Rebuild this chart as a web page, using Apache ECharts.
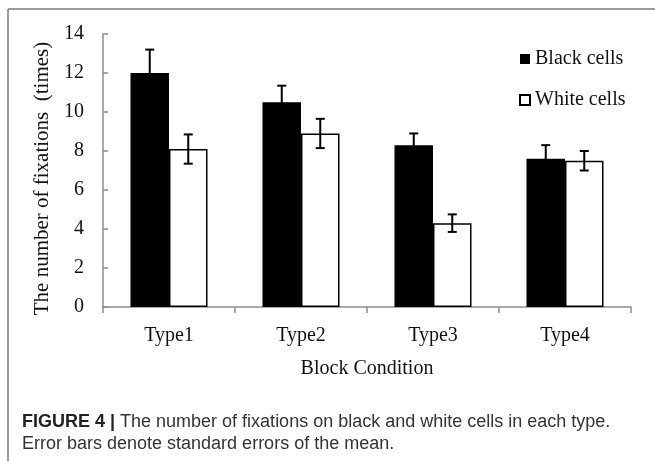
<!DOCTYPE html>
<html><head><meta charset="utf-8">
<script src="https://cdn.jsdelivr.net/npm/echarts@6/dist/echarts.min.js"></script>
<style>html,body{margin:0;padding:0;background:#fff}#c{width:655px;height:461px}</style>
</head><body><div id="c"></div>
<script>
var categories = ['Type1', 'Type2', 'Type3', 'Type4'];
var blackCells = [12.0, 10.5, 8.3, 7.6];
var whiteCells = [8.1, 8.9, 4.3, 7.5];
var blackSE = [1.2, 0.85, 0.6, 0.7];
var whiteSE = [0.75, 0.75, 0.45, 0.5];
var yTicks = [0, 2, 4, 6, 8, 10, 12, 14];

var SERIF = '"Liberation Serif","Times New Roman",serif';
var SANS = '"Liberation Sans",Arial,sans-serif';
var BAR_W = 38.5;

function errData(vals, se) {
  return vals.map(function (v, i) { return [i, v - se[i], v + se[i]]; });
}
function errRender(offset) {
  return function (params, api) {
    var i = api.value(0);
    var lo = api.coord([i, api.value(1)]);
    var hi = api.coord([i, api.value(2)]);
    var x = lo[0] + offset;
    var cw = 4.5;
    var st = { stroke: '#000', lineWidth: 2 };
    return { type: 'group', children: [
      { type: 'line', shape: { x1: x, y1: lo[1], x2: x, y2: hi[1] }, style: st },
      { type: 'line', shape: { x1: x - cw, y1: hi[1], x2: x + cw, y2: hi[1] }, style: st },
      { type: 'line', shape: { x1: x - cw, y1: lo[1], x2: x + cw, y2: lo[1] }, style: st }
    ]};
  };
}

var chart = echarts.init(document.getElementById('c'));
chart.setOption({
  animation: false,
  backgroundColor: '#fff',
  grid: { left: 103, right: 24, top: 34, bottom: 154 },
  title: {
    left: 17, top: 406,
    text: '{b|FIGURE 4 |} The number of fixations on black and white cells in each type.\nError bars denote standard errors of the mean.',
    textStyle: {
      fontFamily: SANS, fontSize: 18, fontWeight: 'normal',
      color: '#333', lineHeight: 22,
      rich: { b: { fontFamily: SANS, fontSize: 18, fontWeight: 'bold', color: '#222', lineHeight: 22 } }
    }
  },
  legend: {
    data: ['Black cells', 'White cells'],
    orient: 'vertical', left: 519, top: 49, itemGap: 21, padding: 0,
    itemWidth: 10, itemHeight: 10, icon: 'rect',
    textStyle: { fontFamily: SERIF, fontSize: 20, color: '#111' }
  },
  xAxis: {
    type: 'category', data: categories,
    name: 'Block Condition', nameLocation: 'middle', nameGap: 52,
    nameTextStyle: { fontFamily: SERIF, fontSize: 20, color: '#111' },
    axisLine: { lineStyle: { color: '#8c8c8c', width: 1.5 } },
    axisTick: { show: true, length: 6, lineStyle: { color: '#8c8c8c', width: 1.5 } },
    axisLabel: { fontFamily: SERIF, fontSize: 20, color: '#111', margin: 19 }
  },
  yAxis: {
    type: 'value', min: 0, max: 14, interval: 2,
    name: 'The number of fixations  (times)', nameLocation: 'middle', nameGap: 43,
    nameTextStyle: { fontFamily: SERIF, fontSize: 21, color: '#111', padding: [0, 16, 0, 0] },
    axisLine: { show: true, lineStyle: { color: '#8c8c8c', width: 1.5 } },
    axisTick: { show: true, inside: true, length: 5, lineStyle: { color: '#8c8c8c', width: 1.5 } },
    splitLine: { show: false },
    axisLabel: { fontFamily: SERIF, fontSize: 20, color: '#111', margin: 19,
      formatter: function (v) { return yTicks.indexOf(v) >= 0 ? String(v) : ''; } }
  },
  graphic: [
    { type: 'line', shape: { x1: 8, y1: 9, x2: 655, y2: 9 }, style: { stroke: '#7a7a7a', lineWidth: 1.5 } },
    { type: 'line', shape: { x1: 8, y1: 9, x2: 8, y2: 461 }, style: { stroke: '#7a7a7a', lineWidth: 1.5 } }
  ],
  series: [
    { name: 'Black cells', type: 'bar', data: blackCells, barWidth: BAR_W, barGap: '0%',
      itemStyle: { color: '#000', borderColor: '#000', borderWidth: 0 } },
    { name: 'White cells', type: 'bar', data: whiteCells, barWidth: BAR_W, barGap: '0%',
      itemStyle: { color: '#fff', borderColor: '#000', borderWidth: 1.5 } },
    { type: 'custom', renderItem: errRender(-BAR_W / 2), data: errData(blackCells, blackSE), z: 10 },
    { type: 'custom', renderItem: errRender(BAR_W / 2), data: errData(whiteCells, whiteSE), z: 10 }
  ]
});
</script></body></html>
